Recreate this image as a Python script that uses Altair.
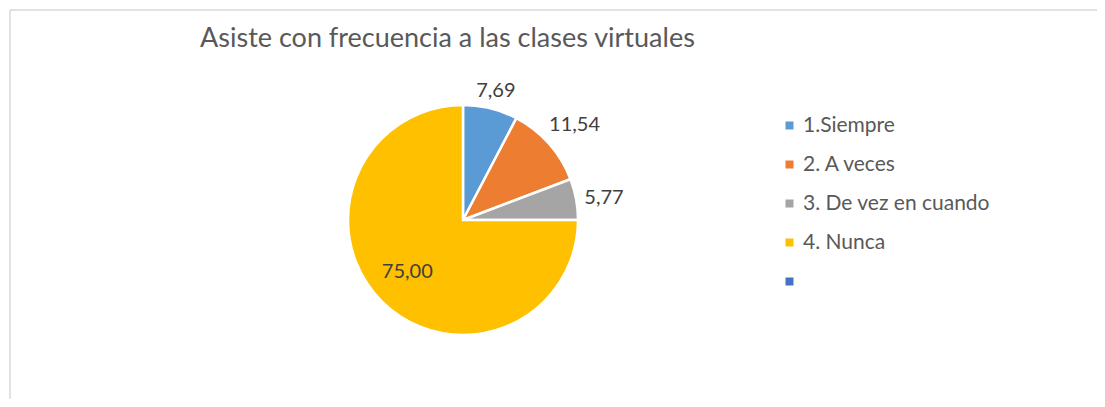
import altair as alt
import pandas as pd

categories = ["1.Siempre", "2. A veces", "3. De vez en cuando", "4. Nunca"]
values = [7.69, 11.54, 5.77, 75.00]
labels = ["7,69", "11,54", "5,77", "75,00"]
order_idx = [1, 2, 3, 4]
legend_domain = categories + [" "]
colors = ["#5B9BD5", "#ED7D31", "#A5A5A5", "#FFC000", "#4472C4"]
title_text = "Asiste con frecuencia a las clases virtuales"

df = pd.DataFrame({"cat": categories, "val": values, "lab": labels, "idx": order_idx})

FONT = "Lato"
W, H = 1089, 391
CX, CY, R = 455, 212, 115

base = alt.Chart(df).encode(
    theta=alt.Theta("val:Q", stack=True),
    order=alt.Order("idx:Q"),
)

pie = base.mark_arc(outerRadius=R, stroke="white", strokeWidth=2.5).encode(
    x=alt.value(CX),
    y=alt.value(CY),
    color=alt.Color(
        "cat:N",
        scale=alt.Scale(domain=legend_domain, range=colors),
        legend=alt.Legend(
            title=None,
            orient="none",
            legendX=771,
            legendY=107,
            symbolType="square",
            symbolSize=64,
            symbolStrokeWidth=0,
            labelFont=FONT,
            labelFontSize=21,
            labelColor="#595959",
            labelOffset=3,
            labelLimit=400,
            rowPadding=17,
            padding=0,
        ),
    ),
)

# outside labels: distance from centre grows with the label's extent along the radial direction
outer_radius_expr = (
    "118 + length(datum.lab) * 5.8 * abs(sin(PI * (datum.val_start + datum.val_end) / 100))"
    " + 14 * abs(cos(PI * (datum.val_start + datum.val_end) / 100))"
)

outer_labels = base.mark_text(
    radius=alt.ExprRef(expr=outer_radius_expr), font=FONT, fontSize=20, color="#404040", dy=4
).encode(
    x=alt.value(CX),
    y=alt.value(CY),
    text=alt.condition(alt.datum.idx < 4, "lab:N", alt.value("")),
)

inner_labels = base.mark_text(
    radius=76, font=FONT, fontSize=20, color="#404040", dx=-2, dy=-2
).encode(
    x=alt.value(CX),
    y=alt.value(CY),
    text=alt.condition(alt.datum.idx == 4, "lab:N", alt.value("")),
)

frame_df = pd.DataFrame({"k": [0]})
left_border = alt.Chart(frame_df).mark_rule(color="#D9D9D9", strokeWidth=1.5).encode(
    x=alt.value(2), y=alt.value(2), y2=alt.value(H)
)
top_border = alt.Chart(frame_df).mark_rule(color="#D9D9D9", strokeWidth=1.5).encode(
    x=alt.value(2), x2=alt.value(W), y=alt.value(2)
)

chart = (
    alt.layer(left_border, top_border, pie, outer_labels, inner_labels)
    .properties(
        width=W,
        height=H,
        padding=0,
        autosize=alt.AutoSizeParams(type="none"),
        title=alt.TitleParams(
            text=title_text,
            anchor="start",
            font=FONT,
            fontSize=27,
            fontWeight="normal",
            color="#595959",
            baseline="alphabetic",
            orient="top",
            offset=0,
            dx=192,
            dy=66,
        ),
    )
    .configure_view(stroke=None)
)

chart.save("out.html", embed_options={"renderer": "svg", "actions": False})
